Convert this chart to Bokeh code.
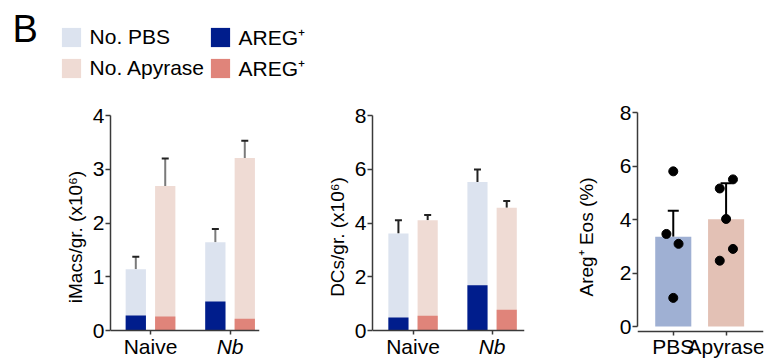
from bokeh.plotting import figure
from bokeh.layouts import row, column
from bokeh.models import (Range1d, Label, Legend, LegendItem, FixedTicker,
                          ColumnDataSource, Whisker, TeeHead, LinearAxis)
from bokeh.embed import file_html
from bokeh.resources import INLINE

FONT = "Liberation Sans"

# ---------------- data ----------------
groups = ["Naive", "Nb"]
group_pos = [0, 1]

# iMacs / gr (x10^6)
imacs_pbs_total = [1.14, 1.64]
imacs_pbs_total_sem = [0.23, 0.25]
imacs_pbs_areg = [0.28, 0.54]
imacs_pbs_areg_sem = [0.03, 0.09]
imacs_apy_total = [2.69, 3.21]
imacs_apy_total_sem = [0.51, 0.32]
imacs_apy_areg = [0.26, 0.22]
imacs_apy_areg_sem = [0.08, 0.05]

# DCs / gr (x10^6)
dcs_pbs_total = [3.61, 5.53]
dcs_pbs_total_sem = [0.49, 0.46]
dcs_pbs_areg = [0.48, 1.68]
dcs_pbs_areg_sem = [0.12, 0.24]
dcs_apy_total = [4.10, 4.57]
dcs_apy_total_sem = [0.20, 0.25]
dcs_apy_areg = [0.55, 0.77]
dcs_apy_areg_sem = [0.18, 0.16]

# Areg+ Eos (%)
eos_groups = ["PBS", "Apyrase"]
eos_pbs_points = [5.80, 3.46, 3.09, 1.07]
eos_pbs_jitter = [0.0, -0.13, 0.10, 0.0]
eos_apy_points = [5.16, 5.50, 4.02, 2.90, 2.46]
eos_apy_jitter = [-0.12, 0.13, 0.0, 0.13, -0.12]
eos_pbs_sem = [0.97]
eos_apy_sem = [1.35]

yticks_imacs = [0, 1, 2, 3, 4]
yticks_dcs = [0, 2, 4, 6, 8]
yticks_eos = [0, 2, 4, 6, 8]

legend_labels = ["No. PBS", "No. Apyrase", "AREG\u207a", "AREG\u207a"]

# ---------------- colours ----------------
C_PBS_LIGHT = "#dce3ef"
C_APY_LIGHT = "#efdbd4"
C_PBS_DARK = "#001d8c"
C_APY_DARK = "#e0847a"
C_PBS_MID = "#9fb0d3"
C_APY_MID = "#e3c1b5"
AXIS_C = "#3a3a3a"
TICK_FS = "21px"
TOP_H = 87
PANEL_H = 361 - TOP_H
FRAME_TOP = 112 - TOP_H        # common frame top inside the panel figures


def style_axis(ax):
    ax.axis_line_color = AXIS_C
    ax.axis_line_width = 1.5
    ax.major_tick_line_color = AXIS_C
    ax.major_tick_line_width = 1.5
    ax.minor_tick_line_color = None
    ax.major_tick_in = 0
    ax.major_label_text_font = FONT
    ax.major_label_text_font_size = TICK_FS
    ax.major_label_text_color = "black"
    ax.axis_label_text_font = FONT
    ax.axis_label_text_font_style = "normal"
    ax.axis_label_text_font_size = "19px"
    ax.axis_label_text_color = "black"


def style(p, yticks, ylabel, label_standoff):
    p.xgrid.visible = False
    p.ygrid.visible = False
    p.outline_line_color = None
    p.background_fill_color = None
    p.border_fill_color = None
    style_axis(p.xaxis[0])
    style_axis(p.yaxis[0])
    p.yaxis.ticker = FixedTicker(ticks=yticks)
    p.yaxis.major_tick_out = 5
    p.yaxis.major_label_standoff = 1
    p.yaxis.axis_label = ylabel
    p.yaxis.axis_label_standoff = label_standoff
    p.xaxis.major_tick_out = 4
    p.xaxis.major_label_standoff = 0


def add_err(p, xs, base, sem, line_color, head_color, head_size):
    src = ColumnDataSource(dict(x=xs, lo=list(base),
                                up=[b + s for b, s in zip(base, sem)]))
    w = Whisker(source=src, base="x", lower="lo", upper="up",
                dimension="height", line_color=line_color, line_width=2,
                lower_head=None,
                upper_head=TeeHead(size=head_size, line_color=head_color,
                                   line_width=2))
    p.add_layout(w)


def y_limits(ymax, y_top_px, zero_px):
    """Range so that ymax sits at y_top_px and 0 at zero_px (page pixels),
    with the frame running from FRAME_TOP to the bottom of the figure."""
    ppu = (zero_px - y_top_px) / ymax
    hi = ymax + (y_top_px - 112) / ppu
    lo = -(361 - zero_px) / ppu
    return lo, hi


def grouped_panel(width, border_left, border_right, xr, ymax, yticks, ylabel,
                  pbs_total, pbs_total_sem, pbs_areg, pbs_areg_sem,
                  apy_total, apy_total_sem, apy_areg, apy_areg_sem, err_c):
    lo, hi = y_limits(ymax, 115, 330)
    p = figure(width=width, height=PANEL_H, output_backend="svg",
               toolbar_location=None, x_range=Range1d(*xr),
               y_range=Range1d(lo, hi), min_border_left=border_left,
               min_border_right=border_right, min_border_top=FRAME_TOP,
               min_border_bottom=0)
    off = 0.185
    bw = 0.255
    xp = [g - off for g in group_pos]
    xa = [g + off for g in group_pos]
    p.vbar(x=xp, top=pbs_total, width=bw, fill_color=C_PBS_LIGHT, line_color=None)
    p.vbar(x=xa, top=apy_total, width=bw, fill_color=C_APY_LIGHT, line_color=None)
    add_err(p, xp, pbs_total, pbs_total_sem, err_c, "#222222", 7)
    add_err(p, xa, apy_total, apy_total_sem, err_c, "#222222", 7)
    p.vbar(x=xp, top=pbs_areg, width=bw, fill_color=C_PBS_DARK, line_color=None)
    p.vbar(x=xa, top=apy_areg, width=bw, fill_color=C_APY_DARK, line_color=None)
    add_err(p, xp, pbs_areg, pbs_areg_sem, err_c, "#222222", 7)
    add_err(p, xa, apy_areg, apy_areg_sem, err_c, "#222222", 7)
    style(p, yticks, ylabel, 4)
    p.yaxis.bounds = (0, ymax)
    p.xaxis.ticker = FixedTicker(ticks=group_pos)
    p.xaxis.major_label_overrides = {0: groups[0], 1: ""}
    p.xaxis.fixed_location = 0
    # second (italic) category axis for "Nb", drawn on top of the first one
    ax2 = LinearAxis(ticker=FixedTicker(ticks=[group_pos[1]]),
                     major_label_overrides={group_pos[1]: groups[1]},
                     fixed_location=0)
    style_axis(ax2)
    ax2.axis_line_color = None
    ax2.major_tick_line_alpha = 0
    ax2.major_tick_out = 4
    ax2.major_label_standoff = 0
    ax2.major_label_text_font_style = "italic"
    p.add_layout(ax2, "below")
    return p


# ---------------- top strip: panel letter + legend ----------------
top = figure(width=766, height=TOP_H, output_backend="svg",
             toolbar_location=None, x_range=Range1d(0, 1),
             y_range=Range1d(0, 1), min_border=0)
top.axis.visible = False
top.grid.visible = False
top.outline_line_color = None
top.border_fill_color = None
top.background_fill_color = None
top.add_layout(Label(x=12, y=TOP_H - 28, x_units="screen", y_units="screen",
                     text="B", text_font=FONT, text_font_size="38px",
                     text_baseline="alphabetic", text_color="black"))
legend_colors = [C_PBS_LIGHT, C_APY_LIGHT, C_PBS_DARK, C_APY_DARK]
items = []
for lab, col in zip(legend_labels, legend_colors):
    # a hidden (out of range) bar that only provides the legend swatch
    r = top.vbar(x=[5], top=[1], width=0.1, fill_color=col, line_color=None)
    items.append(LegendItem(label=lab, renderers=[r]))
leg = Legend(items=items, location=(58.6, 5), orientation="vertical",
             ncols=2, glyph_width=24, glyph_height=24, label_height=25,
             label_standoff=7, label_width=115, spacing=3, padding=0, margin=0,
             border_line_color=None, background_fill_alpha=0,
             label_text_font=FONT, label_text_font_size="21px",
             label_text_color="black")
top.add_layout(leg)

# ---------------- panels ----------------
p1 = grouped_panel(300, 110, 41, (-0.503, 1.37), 4, yticks_imacs,
                   "iMacs/gr. (x10\u2076)",
                   imacs_pbs_total, imacs_pbs_total_sem, imacs_pbs_areg,
                   imacs_pbs_areg_sem, imacs_apy_total, imacs_apy_total_sem,
                   imacs_apy_areg, imacs_apy_areg_sem, "#7a7a7a")
p2 = grouped_panel(260, 72, 36, (-0.513, 1.41), 8, yticks_dcs,
                   "DCs/gr. (x10\u2076)",
                   dcs_pbs_total, dcs_pbs_total_sem, dcs_pbs_areg,
                   dcs_pbs_areg_sem, dcs_apy_total, dcs_apy_total_sem,
                   dcs_apy_areg, dcs_apy_areg_sem, "#222222")

lo3, hi3 = y_limits(8, 112, 326)
p3 = figure(width=206, height=PANEL_H, output_backend="svg",
            toolbar_location=None,
            x_range=Range1d(-0.677, 1.708), y_range=Range1d(lo3, hi3),
            min_border_left=77, min_border_right=3, min_border_top=FRAME_TOP,
            min_border_bottom=0)
pbs_mean = sum(eos_pbs_points) / len(eos_pbs_points)
apy_mean = sum(eos_apy_points) / len(eos_apy_points)
p3.vbar(x=[0, 1], top=[pbs_mean, apy_mean], width=0.683,
        fill_color=[C_PBS_MID, C_APY_MID], line_color=None)
add_err(p3, [0, 1], [pbs_mean, apy_mean], eos_pbs_sem + eos_apy_sem,
        "black", "black", 11)
p3.scatter(x=[0 + j for j in eos_pbs_jitter], y=eos_pbs_points, size=9,
           color="black")
p3.scatter(x=[1 + j for j in eos_apy_jitter], y=eos_apy_points, size=9,
           color="black")
style(p3, yticks_eos, "Areg\u207a Eos (%)", 20)
p3.yaxis.bounds = (0, 8)
p3.xaxis.ticker = FixedTicker(ticks=[0, 1])
p3.xaxis.major_label_overrides = {0: eos_groups[0], 1: eos_groups[1]}
# x axis detached slightly below zero, as in the original
p3.xaxis.fixed_location = -4.5 / ((326 - 112) / 8)

layout = column(top, row(p1, p2, p3))
open("out.html", "w").write(file_html(layout, INLINE))
